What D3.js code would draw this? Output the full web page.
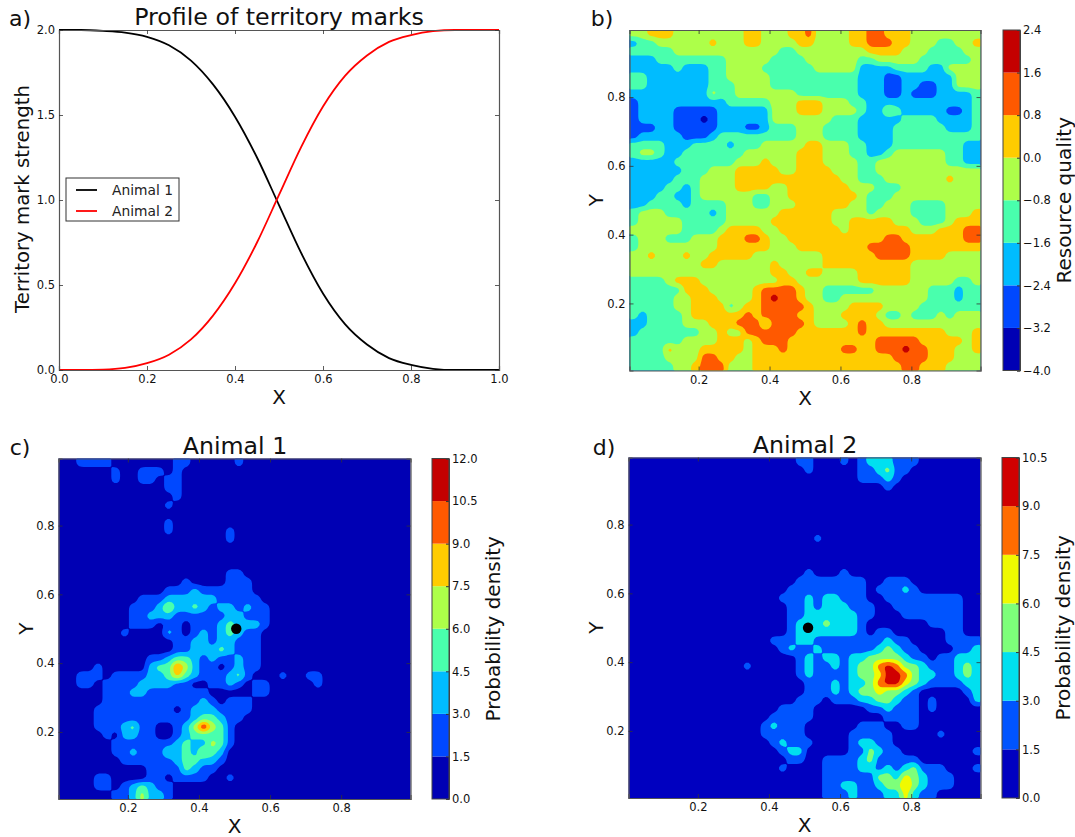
<!DOCTYPE html>
<html>
<head>
<meta charset="utf-8">
<script src="https://cdn.jsdelivr.net/npm/d3@7"></script>
<style>
  body { margin: 0; background: #fff; }
  text { font-family: "DejaVu Sans", sans-serif; fill: #111; }
</style>
</head>
<body>
<div id="chart"></div>
<script>
// panel a
const markX = [0, .05, .1, .15, .2, .25, .3, .35, .4, .45, .5, .55, .6, .65, .7, .75, .8, .85, .9, .95, 1];
const animal1Mark = [2, 2, 1.995, 1.985, 1.96, 1.91, 1.82, 1.68, 1.49, 1.25, .97, .69, .45, .27, .15, .07, .03, .007, 0, 0, 0];
const animal2Mark = [0, 0, .002, .012, .04, .09, .18, .32, .51, .75, 1.03, 1.31, 1.55, 1.73, 1.85, 1.93, 1.97, 1.993, 2, 2, 2];

// contour band edges
const levelsB = [-4, -3.2, -2.4, -1.6, -0.8, 0, 0.8, 1.6, 2.4];
const levelsC = [0, 1.5, 3, 4.5, 6, 7.5, 9, 10.5, 12];
const levelsD = [0, 1.5, 3, 4.5, 6, 7.5, 9, 10.5];

const colors8 = ["#0000b4", "#0048ff", "#00bcff", "#49ffad", "#adff49", "#ffcc00", "#ff5900", "#c40000"];
const colors7 = ["#0000c0", "#0054ff", "#00e0f0", "#7dff7a", "#f0fa00", "#ff6c00", "#d00000"];

const dotC = [0.505, 0.5];
const dotD = [0.51, 0.5];

// band index, top row first, 40 cells a row
const gridB = [
  "44 555 44444444 55 444 55 6 4444 55 66 555 44444444",
  "2 33 444444 5 444 55 4444 55 4444 55 666 55 444 33 44 5",
  "33333 44444444 44 44 33 44444444 5555 444 3333 44",
  "222 33333333 44444 3333 444444 33 44444 333333 4",
  "22222 3 222 33 4444 333333 44444 2222 3333 22 4444",
  "33 2222 222 33 44444 333333 333 3 222 11 2 22222 444",
  "33 2222222 333 4444 3333333333 222 11 2 2 11 22 444",
  "222222222 4 33 44444 44 3333333 222 11 2 111 2222 3",
  "1 2222222222 33333 444 555 444 33 222222222222 3",
  "1 222 2 11111 222222 444 555 4444 3 22 43 22222 11 2 3",
  "1 222 2 111 0 1 222222 4444444 333 22222 3333 2222 3",
  "1 11 22 11111 222 11 2 333 444 3333 2222 3 33333 222 3",
  "1 22222 111 2 333333333 444 3333 2222 3333333333",
  "3333 222 3333 2 333 44444 55 444 33 222 333333 33 22",
  "344 322 33333 33 444444 555 444 33 22 3 444444 33 22",
  "22222 3333333 444 5 444 555 4444 33 44444444 3 3 22",
  "222222 333 444 55555 44 5555 444 33 444444444444",
  "22222 333 4444 555555555555 44 3 33 444444 4 5 444",
  "2222 33 2 3 4444 5555 44 5555555 444 333 444444444",
  "222 3 3 22 3 444444 33 44 55555555 4 333 44444444 44",
  "22 3333 2 3333 444 33 444 555555 44 33 444 3333 4444",
  "3444 3333 3 2 3 44 4444 555555 4444 3 4444 3333 444 5",
  "3444 44 3333 3 44444 5555555 44 55555 444 333 4 555",
  "4444 44 3333 4 5555 44 5555555 4 5555555 444 555 66",
  "3 444 333 444 555 66 5 44 55555 555555 66 5555555 66",
  "34 44444 44 4 555555 444 5555 5555 66666 55555555",
  "4454 44 5 44 55555 44444444 555555 6666 5555 4444",
  "44444444 55 444444 5 44444 555555 5555 44444444",
  "4444444444444444 55 44 55 4444 555555 44444444",
  "3333 4 555 4444444 44 55 4444444 555555 44444 33 4",
  "3333 33 55 5 44444 5 6666 5 44 33 3333 444444 333 2 3 3",
  "33333 44 555 4444 5 6 7 66 5 44 33 4444444444 333 2 33",
  "33333 44 5555 3 4 55 66666 5 4 444 5555 4444 3 3333 33",
  "32 3333 4 55555 5 6 5 6666 55 444 5555 4 33 4 333 4 3 444",
  "22 3333 444 555 6 66 4 6666 5 4444 5 6 55 44444444444",
  "2 33333 33 44 5 4 4 666666 55 55555 6 555555555 444 5",
  "333 333 44 44 555 4 5 666 5555555555 66666 55555 45",
  "3333 5 4 44 5555 5 4 555 6 555555 66 55 666 7 66 555 44 5",
  "3333 44 44 66 5 5 4 4 5555555555 55 5555 6666 555 444",
  "33333 44 5 666 44 4 55555555555555555 66 555 4444"
];

// same, "n:" skips n empty cells, the rest of the row is empty
const gridC = [
  "2:1111 0000000 11 00000 1",
  "6:1 00 111 0 1",
  "6:1 00 11 0 11",
  "12:11",
  "13:1",
  "12:1",
  "",
  "12:1",
  "12:1 000000 1",
  "19:1",
  "",
  "",
  "",
  "19:11",
  "14:1 0000 111",
  "12:111 2 111111",
  "9:111 222222 11111",
  "8:111 2 4 2 2 3 2 1 2 2 1 2 1 1",
  "8:11 22 2 111 111 2 2 1 11",
  "8:111 0 11 0 111 2 3 2 22 1",
  "7:1 0000 2 1 0 1 2 1 2 3 2 11",
  "13:1 1 2 2 1 2 2 1 1 1",
  "13:11 22 2 3 2 111",
  "10:11 2 3 3 2 1 2 1 1 2 1 1",
  "4:1 00000 2 33 6 4 2 11 0 1 2 11",
  "2:111 0 1111 22 3 5 3 2 111 2 3 1 000 1 00 11",
  "2:11 0 1111 2 2 2 2 1 1 00 1 1 2 1 0 11 0000 0 1",
  "5:111 22 111111 1 0000 0 11",
  "5:111111111 1 1 2 1 0 1 1 1",
  "4:111111111 0 1 222 1 111",
  "4:11111111111 2 3 3 2 11",
  "4:111 2 3 1 1 00 1 2 4 7 4 3 1",
  "5:1 0 2 2 11 00 1 2 3 3 3 3 1",
  "6:1111111 2 3 2 2 4 3 1",
  "6:11 2 111 3 2 3 2 4 3 2",
  "7:11111 1 2 3 3 2 2 1",
  "10:11 1 1 3 2 1 1",
  "4:11 0000 11 0 1111 00 1",
  "4:11 0 1 2 3 2 1 1",
  "6:11 2 4 2 2 1"
];

const gridD = [
  "19:11 000 1 0 1222111",
  "20:1 00000 1 1 2 3 1 1",
  "26:11121",
  "29:1",
  "",
  "",
  "",
  "",
  "",
  "21:1",
  "",
  "",
  "",
  "20:1 000 1",
  "19:1111 1111 00 111",
  "18:111111111 0 1 1 1 2 1",
  "17:1 11 2 1 22 111 00 111111 111",
  "18:11 2 1 222 111 00 11111111",
  "18:11 222222 11 000 1111111",
  "18:1 222 3 222 1 0000000 1111",
  "18:1 2222222 1 0 11 000000 11",
  "16:1 1 1 2 2 1 1 1 1 1 1 1 1 2 1 1 0000 1 1 1 1",
  "17:1 2 1 1 2 1 1 1 1 1 1 2 3 2 1 1 000 0 1 1 2",
  "19:1 2 1 2 2 1 2 2 3 3 3 3 2 1 1 0 1 1 2 2 2",
  "13:1 00000 1 2 1 1 2 1 2 3 3 5 6 5 3 3 2 1 1 1 2 3 2",
  "19:1 2 1 1 1 1 2 3 3 4 6 6 5 3 2 2 1 1 2 3 2",
  "20:1 1 1 2 1 2 2 3 5 6 6 4 3 2 1 1 1 1 2 2",
  "20:1 1 1 2 1 2 3 3 4 3 3 2 1 00000 1 2",
  "19:111 0 111 22 33 2 11 0 1 0000 2",
  "17:11 11 000000 11 2 111 0 1",
  "16:11111 0000000 0 1111",
  "15:1 2 1 1 1 000000 111 00 11",
  "15:1 1 1 1 1 00000 1111 1 00000 1",
  "16:1 2 1 1 1 0000 1 2 2 1 1",
  "17:122 00000 1 1 3 2 1 1 00000000 1",
  "18:1 1 00 1 1 1 1 2 3 1 1 1 1 1",
  "17:1 0000 1 1 1 1 2 2 1 2 1 2 3 1 1 1 000 1",
  "22:1111 1 1 3 3 2 4 3 2 1 1 1",
  "22:11 2 2 11 2 3 3 5 3 2 111",
  "22:111 2 111 2 2 4 2 1 1"
];

const colCount = 40;
const rowCount = 40;
const gridLo = 0.005;
const gridHi = 0.995;
const sub = 4; // each read cell becomes sub x sub before the contour pass

// row strings -> flat values at the middle of each band, softened so cells don't show
function gridValues(rows, levels) {
  const w = colCount * sub, h = rowCount * sub;
  const values = new Float64Array(w * h);
  rows.forEach((row, r) => {
    const parts = row.split(":");
    const skip = parts.length > 1 ? +parts[0] : 0;
    const cells = parts[parts.length - 1].replace(/\s/g, "");
    const line = ("0".repeat(skip) + cells).padEnd(colCount, "0").slice(0, colCount);
    [...line].forEach((c, i) => {
      const v = (levels[+c] + levels[+c + 1]) / 2;
      for (let a = 0; a < sub; a++) for (let b = 0; b < sub; b++) {
        values[(r * sub + a) * w + i * sub + b] = v;
      }
    });
  });
  d3.blur2({ data: values, width: w, height: h }, 1);
  return values;
}

const svg = d3.select("#chart").append("svg")
  .attr("width", 1075)
  .attr("height", 837)
  .style("display", "block");

function frame(g, x, y, w, h, xTicks, yTicks, fmt) {
  const spineColor = "#555";
  g.append("g").attr("transform", `translate(0,${h})`)
    .call(d3.axisBottom(x).tickValues(xTicks).tickFormat(fmt).tickSize(-4).tickPadding(5));
  g.append("g").attr("transform", "translate(0,0)")
    .call(d3.axisTop(x).tickValues(xTicks).tickFormat("").tickSize(-4));
  g.append("g")
    .call(d3.axisLeft(y).tickValues(yTicks).tickFormat(fmt).tickSize(-4).tickPadding(4));
  g.append("g").attr("transform", `translate(${w},0)`)
    .call(d3.axisRight(y).tickValues(yTicks).tickFormat("").tickSize(-4));
  g.selectAll(".domain").attr("stroke", spineColor).attr("stroke-width", 1.2);
  g.selectAll(".tick line").attr("stroke", "#333").attr("stroke-width", 0.8);
  g.selectAll(".tick text").style("font-size", "11.5px").attr("fill", "#222")
    .style("font-family", '"DejaVu Sans", sans-serif');
}

function label(txt, x, y, size, rotate) {
  svg.append("text")
    .attr("text-anchor", "middle")
    .attr("transform", `translate(${x},${y})` + (rotate ? " rotate(-90)" : ""))
    .style("font-size", size + "px")
    .text(txt);
}

function contourPanel(box, rows, levels, colors, cbar, cbarLabel, labelX, dot) {
  const x = d3.scaleLinear().domain([gridLo, gridHi]).range([0, box.w]);
  const y = d3.scaleLinear().domain([gridLo, gridHi]).range([box.h, 0]);
  const gx = d3.scaleLinear().domain([0, colCount * sub]).range([gridLo, gridHi]);
  const gy = d3.scaleLinear().domain([0, rowCount * sub]).range([gridHi, gridLo]);

  const g = svg.append("g").attr("transform", `translate(${box.x},${box.y})`);
  const values = gridValues(rows, levels);
  const contours = d3.contours()
    .size([colCount * sub, rowCount * sub])
    .thresholds(levels.slice(1, -1))(values);
  const project = d3.geoTransform({
    point(px, py) { this.stream.point(x(gx(px)), y(gy(py))); }
  });
  const path = d3.geoPath(project);

  g.append("rect").attr("width", box.w).attr("height", box.h).attr("fill", colors[0]);
  g.selectAll("path.band").data(contours).enter().append("path")
    .attr("class", "band")
    .attr("d", path)
    .attr("fill", (_, i) => colors[i + 1]);

  if (dot) {
    g.append("circle")
      .attr("cx", x(dot[0])).attr("cy", y(dot[1])).attr("r", 5.2)
      .attr("fill", "#000");
  }

  frame(g, x, y, box.w, box.h, [.2, .4, .6, .8], [.2, .4, .6, .8], d3.format(".1f"));

  // colour bar
  const c = d3.scaleLinear().domain([levels[0], levels[levels.length - 1]]).range([box.h, 0]);
  const bar = svg.append("g").attr("transform", `translate(${cbar.x},${box.y})`);
  bar.selectAll("rect").data(colors).enter().append("rect")
    .attr("x", 0)
    .attr("y", (_, i) => c(levels[i + 1]))
    .attr("width", cbar.w)
    .attr("height", (_, i) => c(levels[i]) - c(levels[i + 1]))
    .attr("fill", (d) => d);
  const barAxis = bar.append("g").attr("transform", `translate(${cbar.w},0)`)
    .call(d3.axisRight(c).tickValues(levels).tickSize(-3).tickPadding(3)
      .tickFormat((d) => d3.format(".1f")(d).replace("-", "\u2212")));
  barAxis.select(".domain").attr("stroke", "#444");
  barAxis.selectAll("line").attr("stroke", "#333");
  barAxis.selectAll("text").style("font-size", "11.5px").attr("fill", "#222")
    .style("font-family", '"DejaVu Sans", sans-serif');
  bar.append("rect").attr("width", cbar.w).attr("height", box.h)
    .attr("fill", "none").attr("stroke", "#444").attr("stroke-width", 1);

  label("X", box.x + box.w / 2, box.y + box.h + 34, 20);
  label("Y", labelX, box.y + box.h / 2, 20, true);
  label(cbarLabel, cbar.x + 68, box.y + box.h / 2, 20, true);
}

// panel a: the two profiles
{
  const box = { x: 59, y: 30, w: 440, h: 340 };
  const x = d3.scaleLinear().domain([0, 1]).range([0, box.w]);
  const y = d3.scaleLinear().domain([0, 2]).range([box.h, 0]);
  const g = svg.append("g").attr("transform", `translate(${box.x},${box.y})`);
  const line = d3.line().x((d) => x(d[0])).y((d) => y(d[1])).curve(d3.curveMonotoneX);
  [[animal1Mark, "#000"], [animal2Mark, "#f00"]].forEach(([vals, col]) => {
    g.append("path")
      .attr("d", line(d3.zip(markX, vals)))
      .attr("fill", "none")
      .attr("stroke", col)
      .attr("stroke-width", 1.8);
  });
  frame(g, x, y, box.w, box.h, d3.range(0, 1.01, .2), d3.range(0, 2.01, .5), d3.format(".1f"));

  // legend
  const legend = svg.append("g").attr("transform", "translate(66,178)");
  legend.append("rect").attr("width", 113).attr("height", 43)
    .attr("fill", "#fff").attr("stroke", "#333").attr("stroke-width", 1);
  [["Animal 1", "#000", 12], ["Animal 2", "#f00", 33]].forEach(([name, col, ly]) => {
    legend.append("line").attr("x1", 10).attr("x2", 31).attr("y1", ly).attr("y2", ly)
      .attr("stroke", col).attr("stroke-width", 1.8);
    legend.append("text").attr("x", 46).attr("y", ly + 5)
      .style("font-size", "13.8px").style("fill", "#222").text(name);
  });

  label("X", 279, 404, 20);
  label("Territory mark strength", 29, 199, 19.7, true);
  label("Profile of territory marks", 279, 25, 23.7);
}

contourPanel({ x: 629.5, y: 30, w: 351, h: 340.5 }, gridB, levelsB, colors8, { x: 1003, w: 17 }, "Resource quality", 603);
contourPanel({ x: 58.5, y: 458.5, w: 352, h: 340.5 }, gridC, levelsC, colors8, { x: 432, w: 17 }, "Probability density", 33, dotC);
contourPanel({ x: 628.5, y: 457.5, w: 352, h: 340.5 }, gridD, levelsD, colors7, { x: 1002, w: 17 }, "Probability density", 603, dotD);

label("Animal 1", 235, 454, 23.7);
label("Animal 2", 805, 453, 23.7);

// panel letters
[["a)", 20, 26], ["b)", 602, 26], ["c)", 20, 455], ["d)", 604, 455]].forEach(([t, px, py]) => label(t, px, py, 22));
</script>
</body>
</html>
